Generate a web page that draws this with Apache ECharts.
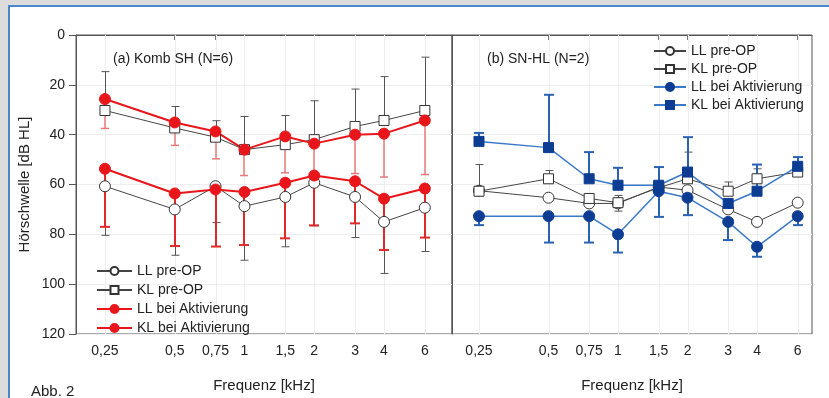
<!DOCTYPE html>
<html><head><meta charset="utf-8">
<script src="https://cdn.jsdelivr.net/npm/echarts@6/dist/echarts.min.js"></script>
<style>
html,body{margin:0;padding:0;background:#dcdcdc;width:829px;height:398px;overflow:hidden}
#frame{position:absolute;left:8px;top:5px;width:830px;height:400px;background:#fff;border-left:2px solid #4a86cc;border-top:2px solid #4a86cc}
#chart{position:absolute;left:0;top:0;width:829px;height:398px}
</style></head>
<body>
<div id="frame"></div>
<div id="chart"></div>
<script>
const freqs = [0.25, 0.5, 0.75, 1, 1.5, 2, 3, 4, 6];
const tickLabels = ['0,25','0,5','0,75','1','1,5','2','3','4','6'];
const legendNames = ['LL pre-OP','KL pre-OP','LL bei Aktivierung','KL bei Aktivierung'];

// Panel (a) Komb SH (N=6)
const aLLpre    = [60.7, 70, 60.7, 68.7, 65, 59.3, 65, 75, 69.3];
const aLLpreErr = [80.4, 88.4, 75.3, 90.4, 85, 76.6, 81.3, 95.7, 86.9];
const aKLpre    = [30.3, 37.3, 41, 46, 44, 42, 36.7, 34.3, 30.3];
const aKLpreErr = [14.7, 28.7, 34.4, 32.7, 32.3, 26.4, 21.7, 16.7, 8.9];
const aLLakt    = [53.7, 63.6, 62, 63, 59.3, 56.4, 58.7, 65.7, 61.6];
const aLLaktErr = [77, 84.7, 84.9, 84.3, 81.6, 76.4, 75.6, 86.3, 81.3];
const aKLakt    = [25.7, 35.1, 38.7, 46, 40.7, 43.6, 40, 39.6, 34.3];
const aKLaktErr = [37.5, 44.3, 49.7, 56.4, 55.3, 55, 55.6, 57, 56];

// Panel (b) SN-HL (N=2)
const bLLpre    = [62.5, 65.3, 67.6, 67.6, 61, 62.3, 70, 75, 67.3];
const bLLpreErr = [null, null, null, 70.7, null, null, null, null, null];
const bKLpre    = [62.7, 57.7, 65.6, 67.3, 61.3, 57.7, 62.7, 57.7, 55];
const bKLpreErr = [52, 54.4, null, 64.4, null, 47, 59, 53.7, null];
const bLLakt    = [72.7, 72.7, 72.7, 80, 62.7, 65.3, 75, 85, 72.7];
const bLLaktErr = [76.3, 83.3, 83.3, 87.3, 73, 72.3, 82.3, 89, 76.3];
const bKLakt    = [42.7, 45.2, 57.7, 60.3, 60.3, 55, 67.6, 62.7, 52.7];
const bKLaktErr = [39.3, 24, 47, 53.3, 53, 41, null, 52, 49];

const FONT = 'Liberation Sans, Arial, sans-serif';
const GRAY = '#444';
const RED = '#e8161b';
const BLUE_LINE = '#3a78c9';
const BLUE_MARK = '#0d3c93';

function pts(vals){ return freqs.map((f,i)=>[f, vals[i]]); }
function errPts(vals, errs){ return freqs.map((f,i)=>[f, vals[i], errs[i]]).filter(d=>d[2]!=null); }

function errSeries(gi, vals, errs, color, width, capW){
  return {
    type:'custom', xAxisIndex:gi, yAxisIndex:gi, z:2, silent:true,
    data: errPts(vals, errs),
    renderItem: function(params, api){
      const p0 = api.coord([api.value(0), api.value(1)]);
      const p1 = api.coord([api.value(0), api.value(2)]);
      const x = Math.round(p0[0]) + (width % 2 === 1 ? 0.5 : 0);
      return {type:'group', children:[
        {type:'line', shape:{x1:x,y1:p0[1],x2:x,y2:p1[1]}, style:{stroke:color,lineWidth:width}},
        {type:'line', shape:{x1:x-capW,y1:p1[1],x2:x+capW,y2:p1[1]}, style:{stroke:color,lineWidth:width}}
      ]};
    }
  };
}
function lineSeries(gi, name, vals, lineColor, lw, symbol, size, fill, border){
  return {
    type:'line', name:name, xAxisIndex:gi, yAxisIndex:gi, z:5,
    data: pts(vals), symbol:symbol, symbolSize:size, showSymbol:true,
    lineStyle:{color:lineColor, width:lw},
    itemStyle:{color:fill, borderColor:border, borderWidth:1},
    emphasis:{disabled:true}
  };
}
function gridLines(gi){
  return {
    type:'custom', xAxisIndex:gi, yAxisIndex:gi, z:1, silent:true,
    data: freqs.map(f=>[f, 0]),
    renderItem: function(params, api){
      const cs = params.coordSys;
      const x = Math.round(api.coord([api.value(0), 0])[0]) + 0.5;
      return {type:'line', shape:{x1:x, y1:cs.y, x2:x, y2:cs.y+cs.height}, style:{stroke:'#eeeeee', lineWidth:1}};
    }
  };
}
function labelFmt(v){
  let best=0; for(let i=1;i<freqs.length;i++){ if(Math.abs(freqs[i]-v)<Math.abs(freqs[best]-v)) best=i; }
  return tickLabels[best];
}
function xAxis(gi, min, max){
  return {
    type:'log', logBase:2, gridIndex:gi, min:min, max:max,
    name:'Frequenz [kHz]', nameLocation:'middle', nameGap:44,
    nameTextStyle:{fontSize:15, color:'#222', fontFamily:FONT},
    axisLine:{show:true, lineStyle:{color:'#555'}},
    axisTick:{show:true, customValues:freqs, length:5, lineStyle:{color:'#777'}},
    axisLabel:{customValues:freqs, formatter:labelFmt, fontSize:14, color:'#222', fontFamily:FONT, margin:10},
    splitLine:{show:false}, minorTick:{show:false}
  };
}
function yAxis(gi, showLab){
  return {
    type:'value', gridIndex:gi, inverse:true, min:0, max:120, interval:20,
    name: showLab ? 'Hörschwelle [dB HL]' : '', nameLocation:'middle', nameGap:44,
    nameTextStyle:{fontSize:15, color:'#222', fontFamily:FONT},
    axisLine:{show:true, lineStyle:{color:'#555'}},
    axisTick:{show:showLab, length:7, lineStyle:{color:'#555'}},
    axisLabel:{show:showLab, fontSize:14, color:'#222', fontFamily:FONT, margin:11},
    splitLine:{show:true, lineStyle:{color:'#eeeeee'}}
  };
}

const chart = echarts.init(document.getElementById('chart'), null, {renderer:'canvas'});
const bNames = legendNames.map(n=>n+' (b)');
const option = {
  animation:false,
  backgroundColor:'transparent',
  textStyle:{fontFamily:FONT},
  title:[
    {text:'(a) Komb SH (N=6)', left:108, top:47, textStyle:{fontSize:14, fontWeight:'normal', color:'#222', fontFamily:FONT}},
    {text:'(b) SN-HL (N=2)', left:482, top:47, textStyle:{fontSize:14, fontWeight:'normal', color:'#222', fontFamily:FONT}},
    {text:'Abb. 2', left:26, top:379, textStyle:{fontSize:15, fontWeight:'normal', color:'#222', fontFamily:FONT}}
  ],
  legend:[
    {data:legendNames, orient:'vertical', left:91, top:259, itemWidth:35, itemHeight:10, itemGap:5, z:10,
     selectedMode:false, textStyle:{fontSize:14, color:'#222', fontFamily:FONT}},
    {data:bNames, orient:'vertical', left:648, top:39, itemWidth:32, itemHeight:10, itemGap:4, z:10,
     selectedMode:false, formatter:n=>n.replace(' (b)',''), textStyle:{fontSize:14, color:'#222', fontFamily:FONT}}
  ],
  grid:[
    {left:76, top:35, width:376, height:300, show:true, borderColor:'#555', borderWidth:1, backgroundColor:'transparent'},
    {left:452, top:35, width:360, height:300, show:true, borderColor:'#555', borderWidth:1, backgroundColor:'transparent'}
  ],
  xAxis:[xAxis(0, 0.1875, 7.86), xAxis(1, 0.191, 6.92)],
  yAxis:[yAxis(0, true), yAxis(1, false)],
  series:[
    gridLines(0), gridLines(1),
    errSeries(0, aLLpre, aLLpreErr, '#555', 1, 4),
    errSeries(0, aKLpre, aKLpreErr, '#555', 1, 4),
    errSeries(0, aKLakt, aKLaktErr, '#e77a7a', 1.5, 4),
    errSeries(0, aLLakt, aLLaktErr, '#e02a2a', 2, 5),
    lineSeries(0, legendNames[0], aLLpre, GRAY, 1, 'circle', 11, '#fff', '#333'),
    lineSeries(0, legendNames[1], aKLpre, GRAY, 1, 'rect', 10, '#fff', '#333'),
    lineSeries(0, legendNames[2], aLLakt, RED, 2, 'circle', 11, RED, RED),
    lineSeries(0, legendNames[3], aKLakt, RED, 2, 'circle', 11, RED, RED),
    errSeries(1, bLLpre, bLLpreErr, '#555', 1, 4),
    errSeries(1, bKLpre, bKLpreErr, '#555', 1, 4),
    errSeries(1, bLLakt, bLLaktErr, '#2a62b3', 2, 5),
    errSeries(1, bKLakt, bKLaktErr, '#2a62b3', 2, 5),
    lineSeries(1, bNames[0], bLLpre, GRAY, 1, 'circle', 11, '#fff', '#333'),
    lineSeries(1, bNames[1], bKLpre, GRAY, 1, 'rect', 10, '#fff', '#333'),
    lineSeries(1, bNames[2], bLLakt, BLUE_LINE, 1.5, 'circle', 11, BLUE_MARK, BLUE_MARK),
    lineSeries(1, bNames[3], bKLakt, BLUE_LINE, 1.5, 'rect', 10, BLUE_MARK, BLUE_MARK)
  ]
};
chart.setOption(option);
</script>
</body></html>
